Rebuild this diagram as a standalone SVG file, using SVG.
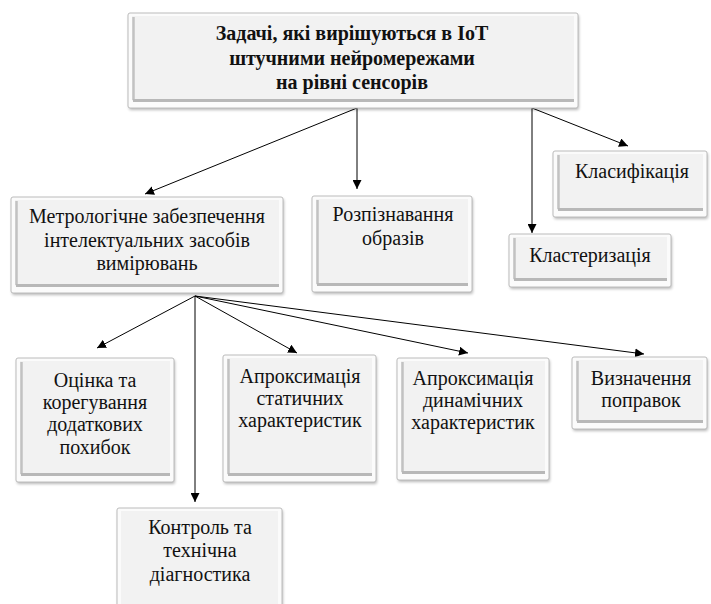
<svg xmlns="http://www.w3.org/2000/svg" width="711" height="604" viewBox="0 0 711 604">
<defs>
  <filter id="sh" x="-10%" y="-10%" width="120%" height="130%">
    <feGaussianBlur stdDeviation="1.6"/>
  </filter>
  <filter id="soft" x="-10%" y="-10%" width="120%" height="120%">
    <feGaussianBlur stdDeviation="0.7"/>
  </filter>
  <marker id="ah" markerUnits="userSpaceOnUse" markerWidth="10" markerHeight="9" refX="9" refY="4.5" orient="auto">
    <path d="M0,0 L9,4.5 L0,9 z" fill="#000"/>
  </marker>
  <style>
    .sh{fill:#000;opacity:.28}
    .outer{fill:#fbfbfb;stroke:#bcbcbc;stroke-width:1}
    .face{fill:#f2f2f2}
    .bev{stroke:#c2c2c2;stroke-width:2.5;fill:none}
    .bevb{stroke:#b8b8b8;stroke-width:3;fill:none}
    text{font-family:'Liberation Serif','Times New Roman','DejaVu Serif',serif;fill:#111;text-anchor:middle}
    .t{font-size:20px}
    .tb{font-size:20px;font-weight:bold}
    .c{stroke:#000;stroke-width:1;fill:none;marker-end:url(#ah)}
  </style>
</defs>
<rect width="711" height="604" fill="#fff"/>

<g id="connectors">
  <line class="c" x1="357" y1="108" x2="145" y2="194"/>
  <line class="c" x1="357" y1="108" x2="357" y2="189"/>
  <line class="c" x1="532" y1="108" x2="532" y2="233"/>
  <line class="c" x1="532" y1="108" x2="628" y2="146"/>
  <line class="c" x1="195" y1="296" x2="97" y2="348"/>
  <line class="c" x1="195" y1="296" x2="195" y2="502"/>
  <line class="c" x1="195" y1="296" x2="297" y2="353"/>
  <line class="c" x1="195" y1="296" x2="468" y2="353"/>
  <line class="c" x1="195" y1="296" x2="644" y2="354"/>
</g>

<g id="root">
  <rect class="sh" x="129" y="15" width="450" height="95" rx="2" filter="url(#sh)"/>
  <rect class="outer" x="128" y="13" width="450" height="95" rx="2"/>
  <rect class="face" x="132" y="16" width="442" height="85"/>
  <g filter="url(#soft)"><path class="bev" d="M133.5,17 V100"/><path class="bevb" d="M133,100.5 H574"/></g>
  <text class="tb" x="352" y="40">Задачі, які вирішуються в IoT</text>
  <text class="tb" x="352" y="65">штучними нейромережами</text>
  <text class="tb" x="352" y="89">на рівні сенсорів</text>
</g>

<g id="metrology">
  <rect class="sh" x="12" y="199" width="272" height="96" rx="2" filter="url(#sh)"/>
  <rect class="outer" x="11" y="197" width="272" height="96" rx="2"/>
  <rect class="face" x="15" y="200" width="264" height="86"/>
  <g filter="url(#soft)"><path class="bev" d="M16.5,201 V285"/><path class="bevb" d="M16,285.5 H279"/></g>
  <text class="t" x="147" y="223">Метрологічне забезпечення</text>
  <text class="t" x="147" y="247">інтелектуальних засобів</text>
  <text class="t" x="147" y="270">вимірювань</text>
</g>

<g id="recognition">
  <rect class="sh" x="313" y="198" width="160" height="96" rx="2" filter="url(#sh)"/>
  <rect class="outer" x="312" y="196" width="160" height="96" rx="2"/>
  <rect class="face" x="316" y="199" width="152" height="86"/>
  <g filter="url(#soft)"><path class="bev" d="M317.5,200 V284"/><path class="bevb" d="M317,284.5 H468"/></g>
  <text class="t" x="393" y="221">Розпізнавання</text>
  <text class="t" x="393" y="245">образів</text>
</g>

<g id="classification">
  <rect class="sh" x="554" y="153" width="154" height="66" rx="2" filter="url(#sh)"/>
  <rect class="outer" x="553" y="151" width="154" height="66" rx="2"/>
  <rect class="face" x="557" y="154" width="146" height="56"/>
  <g filter="url(#soft)"><path class="bev" d="M558.5,155 V209"/><path class="bevb" d="M558,209.5 H703"/></g>
  <text class="t" x="632" y="178">Класифікація</text>
</g>

<g id="clustering">
  <rect class="sh" x="510" y="236" width="162" height="53" rx="2" filter="url(#sh)"/>
  <rect class="outer" x="509" y="234" width="162" height="53" rx="2"/>
  <rect class="face" x="513" y="237" width="154" height="43"/>
  <g filter="url(#soft)"><path class="bev" d="M514.5,238 V279"/><path class="bevb" d="M514,279.5 H667"/></g>
  <text class="t" x="590" y="262">Кластеризація</text>
</g>

<g id="estimation">
  <rect class="sh" x="17" y="360" width="158" height="124" rx="2" filter="url(#sh)"/>
  <rect class="outer" x="16" y="358" width="158" height="124" rx="2"/>
  <rect class="face" x="20" y="361" width="150" height="114"/>
  <g filter="url(#soft)"><path class="bev" d="M21.5,362 V474"/><path class="bevb" d="M21,474.5 H170"/></g>
  <text class="t" x="95" y="387">Оцінка та</text>
  <text class="t" x="95" y="409">корегування</text>
  <text class="t" x="95" y="431">додаткових</text>
  <text class="t" x="95" y="454">похибок</text>
</g>

<g id="static">
  <rect class="sh" x="224" y="357" width="153" height="127" rx="2" filter="url(#sh)"/>
  <rect class="outer" x="223" y="355" width="153" height="127" rx="2"/>
  <rect class="face" x="227" y="358" width="145" height="117"/>
  <g filter="url(#soft)"><path class="bev" d="M228.5,359 V474"/><path class="bevb" d="M228,474.5 H372"/></g>
  <text class="t" x="300" y="383">Апроксимація</text>
  <text class="t" x="300" y="405">статичних</text>
  <text class="t" x="300" y="427">характеристик</text>
</g>

<g id="dynamic">
  <rect class="sh" x="398" y="360" width="152" height="122" rx="2" filter="url(#sh)"/>
  <rect class="outer" x="397" y="358" width="152" height="122" rx="2"/>
  <rect class="face" x="401" y="361" width="144" height="112"/>
  <g filter="url(#soft)"><path class="bev" d="M402.5,362 V472"/><path class="bevb" d="M402,472.5 H545"/></g>
  <text class="t" x="473" y="385">Апроксимація</text>
  <text class="t" x="473" y="407">динамічних</text>
  <text class="t" x="473" y="429">характеристик</text>
</g>

<g id="corrections">
  <rect class="sh" x="573" y="359" width="135" height="72" rx="2" filter="url(#sh)"/>
  <rect class="outer" x="572" y="357" width="135" height="72" rx="2"/>
  <rect class="face" x="576" y="360" width="127" height="62"/>
  <g filter="url(#soft)"><path class="bev" d="M577.5,361 V421"/><path class="bevb" d="M577,421.5 H703"/></g>
  <text class="t" x="641" y="385">Визначення</text>
  <text class="t" x="641" y="407">поправок</text>
</g>

<g id="control">
  <rect class="sh" x="118" y="510" width="165" height="100" rx="2" filter="url(#sh)"/>
  <rect class="outer" x="117" y="508" width="165" height="100" rx="2"/>
  <rect class="face" x="121" y="511" width="157" height="93"/>
  <g filter="url(#soft)"><path class="bev" d="M122.5,512 V604"/></g>
  <text class="t" x="200" y="534">Контроль та</text>
  <text class="t" x="200" y="557">технічна</text>
  <text class="t" x="200" y="581">діагностика</text>
</g>
</svg>
